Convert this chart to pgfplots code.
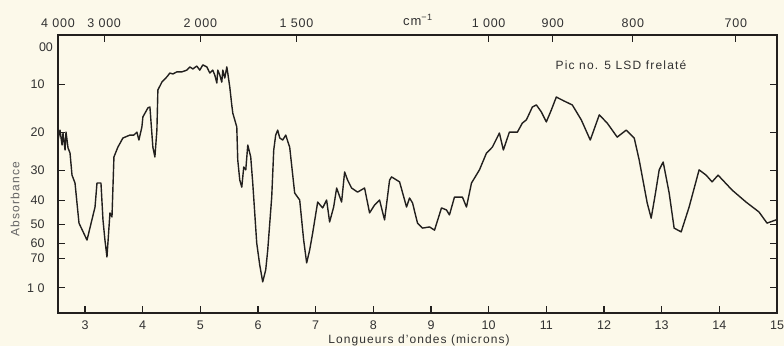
\documentclass[border=0pt]{standalone}
\usepackage{fontspec}
\setmainfont{Liberation Sans}
\usepackage{pgfplots}
\pgfplotsset{compat=1.18}
\definecolor{bg}{RGB}{252,249,234}
\definecolor{ink}{RGB}{34,32,30}
\definecolor{txt}{RGB}{50,50,50}
\pgfplotstableread{
mu T
2.532 0.605
2.567 0.639
2.602 0.588
2.619 0.629
2.654 0.571
2.671 0.632
2.706 0.578
2.740 0.561
2.775 0.485
2.827 0.458
2.896 0.321
3.035 0.263
3.174 0.376
3.208 0.458
3.277 0.458
3.312 0.332
3.346 0.263
3.381 0.205
3.433 0.356
3.468 0.342
3.502 0.547
3.571 0.581
3.658 0.612
3.779 0.622
3.848 0.622
3.900 0.632
3.935 0.605
3.987 0.650
4.004 0.684
4.091 0.715
4.126 0.718
4.177 0.581
4.212 0.547
4.247 0.639
4.264 0.776
4.333 0.803
4.420 0.821
4.472 0.834
4.524 0.831
4.593 0.838
4.680 0.838
4.766 0.844
4.818 0.855
4.870 0.848
4.939 0.858
4.991 0.844
5.043 0.862
5.113 0.855
5.165 0.834
5.216 0.844
5.251 0.827
5.286 0.800
5.303 0.844
5.338 0.827
5.372 0.803
5.390 0.844
5.424 0.817
5.459 0.855
5.476 0.834
5.511 0.786
5.545 0.725
5.563 0.697
5.632 0.650
5.649 0.537
5.684 0.468
5.719 0.444
5.753 0.513
5.788 0.503
5.823 0.588
5.874 0.547
5.909 0.458
5.978 0.253
6.030 0.178
6.082 0.120
6.134 0.161
6.169 0.229
6.238 0.410
6.273 0.571
6.307 0.622
6.342 0.639
6.377 0.612
6.429 0.605
6.481 0.622
6.550 0.580
6.636 0.424
6.723 0.400
6.792 0.263
6.844 0.185
6.896 0.229
6.948 0.287
7.035 0.393
7.121 0.373
7.190 0.400
7.242 0.325
7.312 0.376
7.364 0.441
7.450 0.393
7.502 0.496
7.554 0.468
7.623 0.441
7.727 0.427
7.848 0.441
7.935 0.356
8.022 0.383
8.108 0.400
8.195 0.332
8.282 0.468
8.316 0.479
8.455 0.462
8.576 0.376
8.628 0.407
8.680 0.390
8.766 0.321
8.853 0.304
8.974 0.308
9.061 0.297
9.182 0.373
9.268 0.366
9.320 0.349
9.407 0.410
9.545 0.410
9.615 0.376
9.702 0.458
9.840 0.503
9.961 0.560
10.065 0.581
10.186 0.629
10.255 0.571
10.359 0.632
10.498 0.632
10.584 0.663
10.654 0.674
10.758 0.718
10.827 0.725
10.914 0.701
11.000 0.667
11.087 0.708
11.173 0.752
11.312 0.738
11.450 0.725
11.606 0.674
11.762 0.605
11.918 0.691
12.056 0.663
12.229 0.615
12.385 0.639
12.524 0.612
12.610 0.537
12.749 0.390
12.818 0.338
12.887 0.417
12.957 0.503
13.026 0.530
13.130 0.424
13.216 0.304
13.338 0.291
13.476 0.376
13.649 0.503
13.771 0.485
13.874 0.462
13.978 0.485
14.221 0.434
14.463 0.393
14.688 0.359
14.827 0.321
14.983 0.332
}\spectrum
\begin{document}
\begin{tikzpicture}[x=1pt,y=1pt]
\fill[bg] (0,0) rectangle (784,-346);
\begin{axis}[at={(58pt,-313pt)}, anchor=south west, scale only axis,
  width=719pt, height=278pt,
  xmin=2.532, xmax=15, ymin=0.0137, ymax=0.9641,
  axis line style={ink, line width=1.3pt},
  tick align=inside, major tick length=7pt,
  every tick/.append style={ink, line width=1.2pt},
  xtick={3,4,5,6,7,8,9,10,11,12,13,14,15},
  xticklabels={3,4,5,6,7,8,9,10,11,12,13,14,15},
  xtick pos=left, xticklabel pos=left,
  ytick={0.7943,0.6310,0.5012,0.3981,0.3162,0.2512,0.1995,0.1},
  yticklabels={10,20,30,40,50,60,70,1\ 0},
  ytick pos=both, yticklabel pos=left,
  /pgf/number format/assume math mode=true,
  ticklabel style={font=\fontsize{12.5}{12.5}\selectfont, text=txt},
  xticklabel style={yshift=-4pt},
  yticklabel style={xshift=-10pt},
]
\addplot[ink, line width=1.4pt, line join=round] table[x=mu, y=T] {\spectrum};
\end{axis}
\begin{axis}[at={(58pt,-313pt)}, anchor=south west, scale only axis,
  width=719pt, height=278pt,
  xmin=2.532, xmax=15, ymin=0.0137, ymax=0.9641,
  axis line style={draw=none},
  tick align=inside, major tick length=7pt,
  every tick/.append style={ink, line width=1.2pt},
  ytick=\empty,
  xtick={2.532,3.333,5,6.667,10,11.111,12.5,14.286},
  xticklabels={4\ 000,3\ 000,2\ 000,1\ 500,1\ 000,900,800,700},
  xtick pos=right, xticklabel pos=right,
  /pgf/number format/assume math mode=true,
  ticklabel style={font=\fontsize{12.5}{12.5}\selectfont\addfontfeature{LetterSpace=6}, text=txt},
  xticklabel style={yshift=4pt},
]
\end{axis}
\node[font=\fontsize{12.5}{12.5}\selectfont, text=txt] at (46,-47) {00};
\node[font=\fontsize{13}{13}\selectfont\addfontfeature{LetterSpace=6}, text=txt] at (418,-20) {cm\textsuperscript{−1}};
\node[font=\fontsize{12}{12}\selectfont\addfontfeature{LetterSpace=10}, text=txt] at (621,-65) {Pic no. 5 LSD frelaté};
\node[inner sep=0pt, font=\fontsize{12}{12}\selectfont\addfontfeature{LetterSpace=9}, text=txt] at (419,-340) {Longueurs d'ondes (microns)};
\node[font=\fontsize{12}{12}\selectfont\addfontfeature{LetterSpace=10}, text=txt!75, rotate=90] at (15,-199) {Absorbance};
\pgfresetboundingbox
\path (0,0) rectangle (784,-346);
\end{tikzpicture}
\end{document}
